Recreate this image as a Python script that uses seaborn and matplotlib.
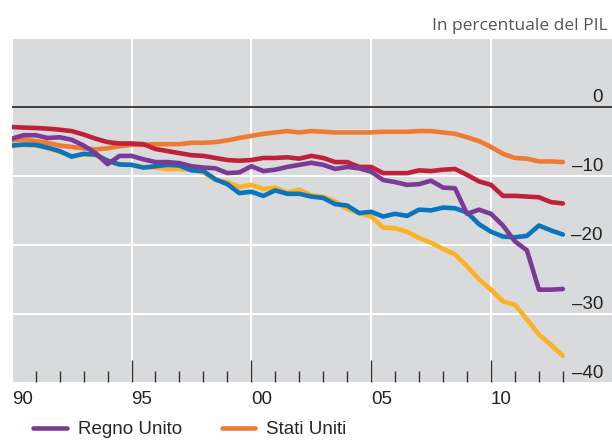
import numpy as np
import matplotlib
matplotlib.use('Agg')
import matplotlib.pyplot as plt
import seaborn as sns

# asse temporale semestrale 1990-2013
anni = np.arange(1990, 2013.01, 0.5)

# valori (in percentuale del PIL)
regno_unito = [-4.6, -4.1, -4.1, -4.5, -4.4, -4.75, -5.6, -6.7, -8.3, -7.1, -7.1,
               -7.6, -8.0, -8.0, -8.15, -8.6, -8.8, -8.9, -9.6, -9.5, -8.6,
               -9.3, -9.1, -8.7, -8.4, -8.1, -8.4, -9.0, -8.7, -8.9, -9.4,
               -10.6, -10.9, -11.3, -11.2, -10.7, -11.7, -11.8, -15.5, -14.9, -15.5,
               -17.2, -19.5, -20.8, -26.5, -26.5, -26.4]
stati_uniti = [-4.85, -4.7, -4.95, -5.2, -5.6, -5.8, -6.0, -6.15, -6.0, -5.7, -5.5,
               -5.5, -5.4, -5.4, -5.4, -5.2, -5.2, -5.1, -4.85, -4.5, -4.2,
               -3.9, -3.7, -3.5, -3.7, -3.5, -3.6, -3.7, -3.7, -3.7, -3.7,
               -3.6, -3.6, -3.6, -3.5, -3.5, -3.7, -3.9, -4.4, -4.95, -5.8,
               -6.8, -7.4, -7.5, -7.9, -7.9, -8.0]
serie_rossa = [-2.9, -3.0, -3.05, -3.15, -3.3, -3.5, -4.0, -4.6, -5.1, -5.3, -5.3,
               -5.4, -6.1, -6.4, -6.7, -7.0, -7.1, -7.4, -7.7, -7.8, -7.7,
               -7.4, -7.4, -7.3, -7.5, -7.1, -7.4, -8.0, -8.0, -8.7, -8.7,
               -9.6, -9.6, -9.6, -9.2, -9.3, -9.1, -9.0, -9.85, -10.8, -11.3,
               -12.9, -12.9, -13.0, -13.1, -13.8, -14.0]
serie_blu = [-5.6, -5.45, -5.5, -5.9, -6.4, -7.2, -6.8, -6.9, -7.8, -8.35, -8.4,
             -8.8, -8.6, -8.4, -8.5, -9.2, -9.3, -10.5, -11.2, -12.5, -12.3,
             -12.9, -12.1, -12.6, -12.6, -13.0, -13.2, -14.1, -14.3, -15.4, -15.2,
             -15.9, -15.5, -15.8, -14.9, -15.0, -14.6, -14.7, -15.3, -17.0, -18.1,
             -18.8, -18.9, -18.7, -17.2, -17.9, -18.5]
serie_gialla = [-5.7, -5.5, -5.6, -6.0, -6.5, -7.2, -6.9, -7.0, -7.8, -8.3, -8.4,
                -8.7, -8.8, -9.0, -9.0, -9.1, -9.5, -10.6, -10.9, -11.6, -11.3,
                -11.9, -11.7, -12.4, -12.0, -12.8, -13.0, -13.7, -14.8, -15.4, -15.9,
                -17.5, -17.6, -18.1, -19.0, -19.7, -20.6, -21.4, -23.1, -25.0, -26.5,
                -28.2, -28.7, -30.8, -33.0, -34.5, -36.1]

x_anni_etichette = [1990, 1995, 2000, 2005, 2010]
x_etichette = ['90', '95', '00', '05', '10']
x_minori = [1991, 1992, 1993, 1994, 1996, 1997, 1998, 1999, 2001, 2002, 2003, 2004,
            2006, 2007, 2008, 2009, 2011, 2012, 2013]
y_valori = [0, -10, -20, -30, -40]
y_etichette = ['0', '\u201310', '\u201320', '\u201330', '\u201340']

sns.set_theme(style='darkgrid', rc={'axes.facecolor': '#D9DADC',
                                    'grid.color': 'white', 'grid.linewidth': 1.5})
plt.rcParams['font.family'] = ['Liberation Sans', 'DejaVu Sans']

fig = plt.figure(figsize=(6.12, 4.4), dpi=100)
ax = fig.add_axes([11.7 / 612, 1 - 381.7 / 440, 600.3 / 612, (381.7 - 39.3) / 440])

# ordine di disegno: giallo sotto, viola sopra
serie = [(serie_gialla, '#FBB324', 'serie gialla'),
         (stati_uniti, '#EE7B30', 'Stati Uniti'),
         (serie_rossa, '#C0213A', 'serie rossa'),
         (serie_blu, '#0A75BE', 'serie blu'),
         (regno_unito, '#7B3A96', 'Regno Unito')]
linee = {}
for valori, colore, nome in serie:
    sns.lineplot(x=anni, y=valori, color=colore, linewidth=3.3, ax=ax, legend=False)
    ax.lines[-1].set_label(nome)
    linee[nome] = ax.lines[-1]

ax.set_xlim(1990.04, 2015.05)
ax.set_ylim(-39.85, 9.81)

ax.axhline(0, color='#333333', lw=1.3, zorder=1.5)
ax.set_yticks([-10, -20, -30])
ax.set_yticklabels([])
ax.tick_params(axis='y', length=0)

ax.set_xticks(x_anni_etichette)
ax.set_xticklabels(x_etichette, fontsize=13.5, color='#222222')
ax.set_xticks(x_minori, minor=True)
ax.tick_params(axis='x', which='major', direction='in', length=15.8, width=1,
               color='#333333', pad=7, bottom=True)
ax.tick_params(axis='x', which='minor', direction='in', length=8, width=1,
               color='#333333', bottom=True)
ax.xaxis.get_major_ticks()[0].tick1line.set_visible(False)
for t in ax.get_xticklabels():
    t.set_horizontalalignment('left')
ax.grid(which='minor', visible=False)
ax.set_xlabel('')
ax.set_ylabel('')
for s in ax.spines.values():
    s.set_visible(False)

for v, lab in zip(y_valori, y_etichette):
    ax.annotate(lab, xy=(0.985, v), xycoords=('axes fraction', 'data'),
                xytext=(0, 3.4), textcoords='offset points', ha='right',
                va='baseline', fontsize=13.5, color='#222222')

fig.text(608 / 612, 1 - 30 / 440, 'In percentuale del PIL', ha='right', va='baseline',
         fontsize=12.5, color='#555555', family=['Open Sans', 'DejaVu Sans'])

fig.legend(handles=[linee['Regno Unito'], linee['Stati Uniti']],
           labels=['Regno Unito', 'Stati Uniti'], loc='center left',
           bbox_to_anchor=(33 / 612, 1 - 429.5 / 440), ncol=2, frameon=False,
           borderpad=0, borderaxespad=0, handlelength=1.8, handletextpad=0.6,
           columnspacing=2.1, fontsize=13.5)

fig.savefig('out.png', dpi=100)
